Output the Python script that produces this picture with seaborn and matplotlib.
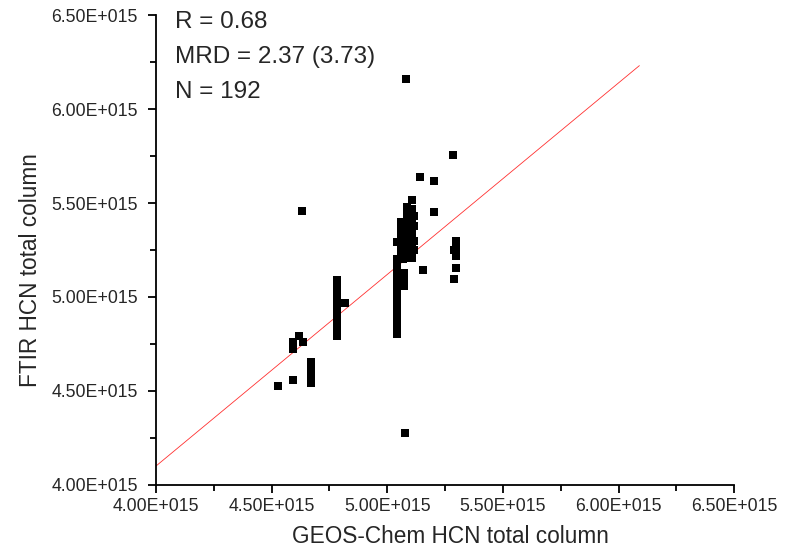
import numpy as np
import pandas as pd
import seaborn as sns
import matplotlib.pyplot as plt
from matplotlib.ticker import MultipleLocator, FuncFormatter

# values in units of 1E+015 molec/cm2
geos = [4.529, 4.594, 4.594, 4.594, 4.594, 4.620, 4.637, 4.633,
        4.672, 4.672, 4.672, 4.672, 4.672,
        4.782, 4.782, 4.782, 4.782, 4.782, 4.782, 4.782, 4.782,
        4.782, 4.782, 4.782, 4.782, 4.782, 4.782, 4.782, 4.782,
        4.815,
        5.042, 5.042, 5.042, 5.042, 5.042, 5.042, 5.042, 5.042, 5.042, 5.042, 5.042,
        5.042, 5.042, 5.042, 5.042, 5.042, 5.042, 5.042, 5.042, 5.042, 5.042, 5.040,
        5.073, 5.073, 5.073, 5.073, 5.075, 5.079,
        5.060, 5.060, 5.060, 5.060, 5.060, 5.060, 5.060,
        5.085, 5.085, 5.085, 5.085, 5.085, 5.085, 5.085, 5.085, 5.085, 5.085,
        5.105, 5.105, 5.105, 5.105, 5.105, 5.105, 5.105, 5.105, 5.105, 5.105, 5.105,
        5.114, 5.114, 5.114, 5.114, 5.070, 5.100,
        5.140, 5.201, 5.283, 5.201, 5.153,
        5.296, 5.296, 5.296, 5.296, 5.296, 5.290, 5.296, 5.287]
ftir = [4.527, 4.559, 4.761, 4.739, 4.723, 4.793, 4.761, 5.457,
        4.654, 4.622, 4.590, 4.559, 4.543,
        5.090, 5.070, 5.050, 5.030, 5.010, 4.990, 4.970, 4.950,
        4.930, 4.910, 4.890, 4.870, 4.850, 4.830, 4.810, 4.793,
        4.968,
        5.200, 5.180, 5.160, 5.140, 5.120, 5.100, 5.080, 5.060, 5.040, 5.020, 5.000,
        4.980, 4.960, 4.940, 4.920, 4.900, 4.880, 4.860, 4.840, 4.820, 4.803, 5.290,
        5.130, 5.100, 5.080, 5.060, 4.277, 6.160,
        5.400, 5.370, 5.340, 5.310, 5.280, 5.250, 5.220,
        5.480, 5.450, 5.420, 5.390, 5.360, 5.330, 5.300, 5.270, 5.240, 5.210,
        5.516, 5.470, 5.440, 5.410, 5.380, 5.350, 5.320, 5.290, 5.260, 5.230, 5.210,
        5.430, 5.380, 5.300, 5.250, 5.200, 5.205,
        5.638, 5.617, 5.755, 5.452, 5.144,
        5.300, 5.280, 5.260, 5.240, 5.220, 5.250, 5.154, 5.096]

fit_slope = 1.019
fit_intercept = 0.025
fit_x = [4.0, 6.09]

stats_text = ["R = 0.68", "MRD = 2.37 (3.73)", "N = 192"]

data = pd.DataFrame({'GEOS': np.array(geos) * 1e15, 'FTIR': np.array(ftir) * 1e15})
line_x = np.array(fit_x) * 1e15
line_y = fit_slope * line_x + fit_intercept * 1e15

sns.set_style('ticks')
plt.rcParams['font.family'] = ['Liberation Sans', 'DejaVu Sans']

fig = plt.figure(figsize=(7.92, 5.5), dpi=100)
ax = fig.add_axes([0.197, 0.1182, 0.730, 0.8545])

sns.lineplot(x=line_x, y=line_y, color='#ff3030', linewidth=0.6, ax=ax)
sns.scatterplot(data=data, x='GEOS', y='FTIR', marker='s', s=40, color='black',
                linewidth=0, ax=ax, zorder=3)

ax.set_xlim(4.0e15, 6.5e15)
ax.set_ylim(4.0e15, 6.5e15)


def sci_fmt(v, pos):
    return f"{v / 1e15:.2f}E+015"


for axis in (ax.xaxis, ax.yaxis):
    axis.set_major_locator(MultipleLocator(0.5e15))
    axis.set_minor_locator(MultipleLocator(0.25e15))
    axis.set_major_formatter(FuncFormatter(sci_fmt))

ax.tick_params(which='major', length=6, width=1.3, labelsize=12.7, color='black')
ax.tick_params(axis='y', which='major', pad=7)
ax.tick_params(which='minor', length=4, width=1.3, color='black')
for s in ('left', 'bottom'):
    ax.spines[s].set_linewidth(1.3)
    ax.spines[s].set_color('black')
sns.despine(ax=ax)

ax.set_xlabel('GEOS-Chem HCN total column', fontsize=16.3)
ax.set_ylabel('FTIR HCN total column', fontsize=16.3)
ax.xaxis.set_label_coords(0.51, -0.086)
ax.yaxis.set_label_coords(-0.197, 0.457)

for i, t in enumerate(stats_text):
    ax.text(0.033, 1.008 - i * 0.074, t, transform=ax.transAxes, fontsize=17.5,
            va='top', ha='left')

fig.savefig('out.png', dpi=100)
